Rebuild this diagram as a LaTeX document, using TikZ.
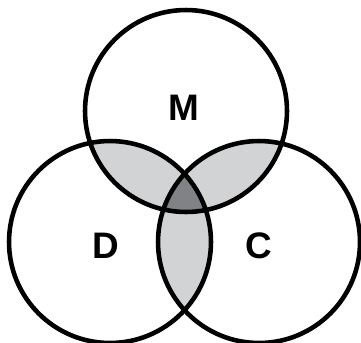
\documentclass[tikz,border=0pt]{standalone}
\usepackage{fontspec}
\setmainfont{Liberation Sans}
\usepackage{tikz}
\usetikzlibrary{positioning}
\definecolor{vennpair}{HTML}{D1D3D4}
\definecolor{venntriple}{HTML}{808285}
\tikzset{
  ring/.style  ={draw=black, line width=2.6pt},
  lbl/.style   ={font=\fontsize{21}{21}\selectfont\bfseries, inner sep=0pt}
}
\newcommand{\vrad}{2.02cm}

\begin{document}
\begin{tikzpicture}[x=0.02cm, y=-0.02cm]
\useasboundingbox (0,0) rectangle (361,342);
\coordinate (cm) at (186,111);
\coordinate (cd) at (110,242);
\coordinate (cc) at (259,242);
% pairwise overlaps
\begin{scope}
  \clip (cm) circle (\vrad);
  \fill[vennpair] (cd) circle (\vrad);
  \fill[vennpair] (cc) circle (\vrad);
\end{scope}
\begin{scope}
  \clip (cd) circle (\vrad);
  \fill[vennpair] (cc) circle (\vrad);
\end{scope}
% triple overlap
\begin{scope}
  \clip (cm) circle (\vrad);
  \clip (cd) circle (\vrad);
  \fill[venntriple] (cc) circle (\vrad);
\end{scope}
\foreach \c in {cm,cd,cc}{\draw[ring] (\c) circle (\vrad);}
\node[lbl] (m) at (184,108) {M};
\node[lbl] (d) at (106,246) {D};
\node[lbl] (c) at (259,246) {C};
\end{tikzpicture}
\end{document}
